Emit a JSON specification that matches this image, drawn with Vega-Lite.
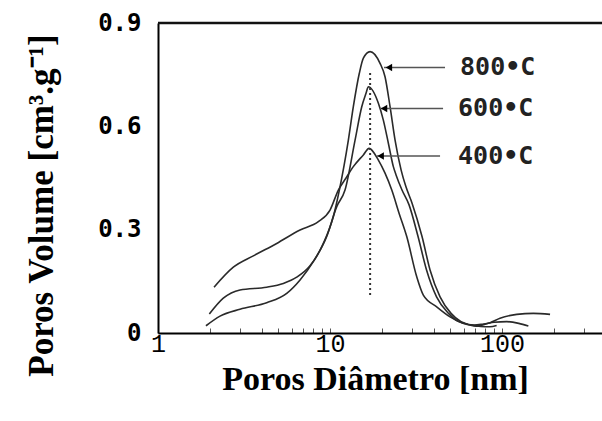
{
  "$schema": "https://vega.github.io/schema/vega-lite/v6.json",
  "width": 444,
  "height": 310,
  "autosize": {"type": "none"},
  "padding": {"left": 158, "top": 23, "right": 0, "bottom": 88},
  "background": "white",
  "config": {"view": {"stroke": null}},
  "datasets": {
    "curves": [
      {"s": "400", "d": 2.117, "v": 0.133}, {"s": "400", "d": 2.741, "v": 0.191}, {"s": "400", "d": 3.583, "v": 0.224},
      {"s": "400", "d": 4.898, "v": 0.260}, {"s": "400", "d": 6.694, "v": 0.299}, {"s": "400", "d": 8.551, "v": 0.323},
      {"s": "400", "d": 10.0, "v": 0.357}, {"s": "400", "d": 11.18, "v": 0.415}, {"s": "400", "d": 12.39, "v": 0.450},
      {"s": "400", "d": 13.66, "v": 0.483}, {"s": "400", "d": 15.62, "v": 0.517}, {"s": "400", "d": 16.86, "v": 0.536},
      {"s": "400", "d": 19.10, "v": 0.502}, {"s": "400", "d": 20.88, "v": 0.464}, {"s": "400", "d": 22.85, "v": 0.415},
      {"s": "400", "d": 25.19, "v": 0.348}, {"s": "400", "d": 27.92, "v": 0.280}, {"s": "400", "d": 31.92, "v": 0.163},
      {"s": "400", "d": 34.86, "v": 0.110}, {"s": "400", "d": 41.72, "v": 0.076}, {"s": "400", "d": 49.85, "v": 0.047},
      {"s": "400", "d": 59.57, "v": 0.028}, {"s": "400", "d": 71.27, "v": 0.020}, {"s": "400", "d": 85.2, "v": 0.030},
      {"s": "400", "d": 97.3, "v": 0.043}, {"s": "400", "d": 121.8, "v": 0.054}, {"s": "400", "d": 152.1, "v": 0.057},
      {"s": "400", "d": 190.1, "v": 0.054},
      {"s": "800", "d": 1.988, "v": 0.055}, {"s": "800", "d": 2.397, "v": 0.101}, {"s": "800", "d": 2.997, "v": 0.125},
      {"s": "800", "d": 4.285, "v": 0.133}, {"s": "800", "d": 5.351, "v": 0.144}, {"s": "800", "d": 6.403, "v": 0.162},
      {"s": "800", "d": 7.650, "v": 0.195}, {"s": "800", "d": 9.143, "v": 0.260}, {"s": "800", "d": 10.45, "v": 0.338},
      {"s": "800", "d": 11.33, "v": 0.415}, {"s": "800", "d": 12.78, "v": 0.560}, {"s": "800", "d": 13.66, "v": 0.657},
      {"s": "800", "d": 14.80, "v": 0.754}, {"s": "800", "d": 15.62, "v": 0.798}, {"s": "800", "d": 17.09, "v": 0.817},
      {"s": "800", "d": 19.53, "v": 0.783}, {"s": "800", "d": 20.88, "v": 0.744}, {"s": "800", "d": 22.33, "v": 0.657},
      {"s": "800", "d": 23.88, "v": 0.560}, {"s": "800", "d": 25.9, "v": 0.473}, {"s": "800", "d": 27.6, "v": 0.425},
      {"s": "800", "d": 29.98, "v": 0.377}, {"s": "800", "d": 34.26, "v": 0.280}, {"s": "800", "d": 38.14, "v": 0.183},
      {"s": "800", "d": 43.61, "v": 0.105}, {"s": "800", "d": 50.51, "v": 0.057}, {"s": "800", "d": 57.75, "v": 0.033},
      {"s": "800", "d": 68.74, "v": 0.023}, {"s": "800", "d": 77.9, "v": 0.026}, {"s": "800", "d": 90.0, "v": 0.031},
      {"s": "800", "d": 106.5, "v": 0.033}, {"s": "800", "d": 125.0, "v": 0.028}, {"s": "800", "d": 142.2, "v": 0.020},
      {"s": "600", "d": 1.901, "v": 0.021}, {"s": "600", "d": 2.294, "v": 0.049}, {"s": "600", "d": 2.997, "v": 0.069},
      {"s": "600", "d": 4.285, "v": 0.088}, {"s": "600", "d": 5.602, "v": 0.115}, {"s": "600", "d": 6.694, "v": 0.154},
      {"s": "600", "d": 7.995, "v": 0.207}, {"s": "600", "d": 9.568, "v": 0.280}, {"s": "600", "d": 10.94, "v": 0.367},
      {"s": "600", "d": 12.22, "v": 0.415}, {"s": "600", "d": 13.98, "v": 0.560}, {"s": "600", "d": 15.29, "v": 0.657},
      {"s": "600", "d": 16.19, "v": 0.696}, {"s": "600", "d": 16.70, "v": 0.715}, {"s": "600", "d": 19.10, "v": 0.667},
      {"s": "600", "d": 20.41, "v": 0.618}, {"s": "600", "d": 21.83, "v": 0.551}, {"s": "600", "d": 23.34, "v": 0.483},
      {"s": "600", "d": 24.2, "v": 0.459}, {"s": "600", "d": 26.2, "v": 0.415}, {"s": "600", "d": 28.8, "v": 0.372},
      {"s": "600", "d": 32.48, "v": 0.280}, {"s": "600", "d": 36.39, "v": 0.183}, {"s": "600", "d": 41.61, "v": 0.105},
      {"s": "600", "d": 48.87, "v": 0.057}, {"s": "600", "d": 55.86, "v": 0.033}, {"s": "600", "d": 66.93, "v": 0.023},
      {"s": "600", "d": 75.0, "v": 0.019}, {"s": "600", "d": 85.0, "v": 0.018}, {"s": "600", "d": 93.0, "v": 0.022}
    ],
    "notes": [
      {"lab": "800•C", "y": 0.771, "tip": 20.6, "head": 22.0, "tail": 46.6, "tx": 57.0},
      {"lab": "600•C", "y": 0.652, "tip": 19.5, "head": 20.6, "tail": 45.4, "tx": 55.5},
      {"lab": "400•C", "y": 0.514, "tip": 18.7, "head": 19.7, "tail": 43.6, "tx": 55.5}
    ],
    "peak": [{"d": 17.1, "top": 0.755, "bottom": 0.11}],
    "frame": [{"v": 0.9}]
  },
  "layer": [
    {
      "data": {"name": "curves"},
      "mark": {"type": "line", "interpolate": "monotone", "stroke": "#2a2a2a", "strokeWidth": 1.6, "clip": true},
      "encoding": {
        "x": {
          "field": "d", "type": "quantitative",
          "scale": {"type": "log", "domain": [1, 381], "nice": false},
          "axis": {
            "values": [1, 2, 3, 4, 5, 6, 7, 8, 9, 10, 20, 30, 40, 50, 60, 70, 80, 90, 100, 200, 300],
            "labelExpr": "(datum.value == 1 || datum.value == 10 || datum.value == 100) ? format(datum.value, 'd') : ''",
            "title": "Poros Diâmetro [nm]",
            "titleFont": "Liberation Serif", "titleFontSize": 34, "titleFontWeight": "bold", "titleColor": "black",
            "titleX": 217, "titleY": 56, "titleBaseline": "alphabetic",
            "labelFont": "Liberation Mono", "labelFontSize": 25, "labelColor": "black", "labelPadding": 3,
            "labelFlush": false, "labelOverlap": false,
            "domainColor": "black", "domainWidth": 2,
            "ticks": true, "tickSize": -5, "tickColor": "#555", "tickWidth": 1,
            "grid": false
          }
        },
        "y": {
          "field": "v", "type": "quantitative",
          "scale": {"domain": [0, 0.9], "nice": false},
          "axis": {
            "values": [0, 0.3, 0.6, 0.9],
            "format": "~g",
            "title": "Poros Volume [cm³.g⁻¹]",
            "titleFont": "Liberation Serif", "titleFontSize": 35, "titleFontWeight": "bold", "titleColor": "black",
            "titleX": -117, "titleY": 182, "titleAngle": -90, "titleBaseline": "middle", "titleAlign": "center",
            "labelFont": "DejaVu Sans Mono", "labelFontSize": 24, "labelFontWeight": "bold", "labelColor": "black",
            "labelPadding": 17, "labelFlush": false,
            "domainColor": "black", "domainWidth": 2,
            "ticks": false, "grid": false
          }
        },
        "detail": {"field": "s"}
      }
    },
    {
      "data": {"name": "frame"},
      "mark": {"type": "rule", "color": "#111", "strokeWidth": 2.5},
      "encoding": {"y": {"field": "v", "type": "quantitative"}}
    },
    {
      "data": {"name": "peak"},
      "mark": {"type": "rule", "color": "#333", "strokeWidth": 2, "strokeDash": [2, 3]},
      "encoding": {
        "x": {"field": "d", "type": "quantitative"},
        "y": {"field": "top", "type": "quantitative"},
        "y2": {"field": "bottom"}
      }
    },
    {
      "data": {"name": "notes"},
      "mark": {"type": "rule", "color": "#555", "strokeWidth": 1.5},
      "encoding": {
        "x": {"field": "tip", "type": "quantitative"},
        "x2": {"field": "tail"},
        "y": {"field": "y", "type": "quantitative"}
      }
    },
    {
      "data": {"name": "notes"},
      "mark": {"type": "point", "shape": "triangle-left", "filled": true, "color": "black", "size": 55, "opacity": 1},
      "encoding": {
        "x": {"field": "head", "type": "quantitative"},
        "y": {"field": "y", "type": "quantitative"}
      }
    },
    {
      "data": {"name": "notes"},
      "mark": {"type": "text", "align": "left", "baseline": "middle", "font": "DejaVu Sans Mono", "fontSize": 25, "fontWeight": "bold", "color": "#222"},
      "encoding": {
        "x": {"field": "tx", "type": "quantitative"},
        "y": {"field": "y", "type": "quantitative"},
        "text": {"field": "lab"}
      }
    }
  ]
}
